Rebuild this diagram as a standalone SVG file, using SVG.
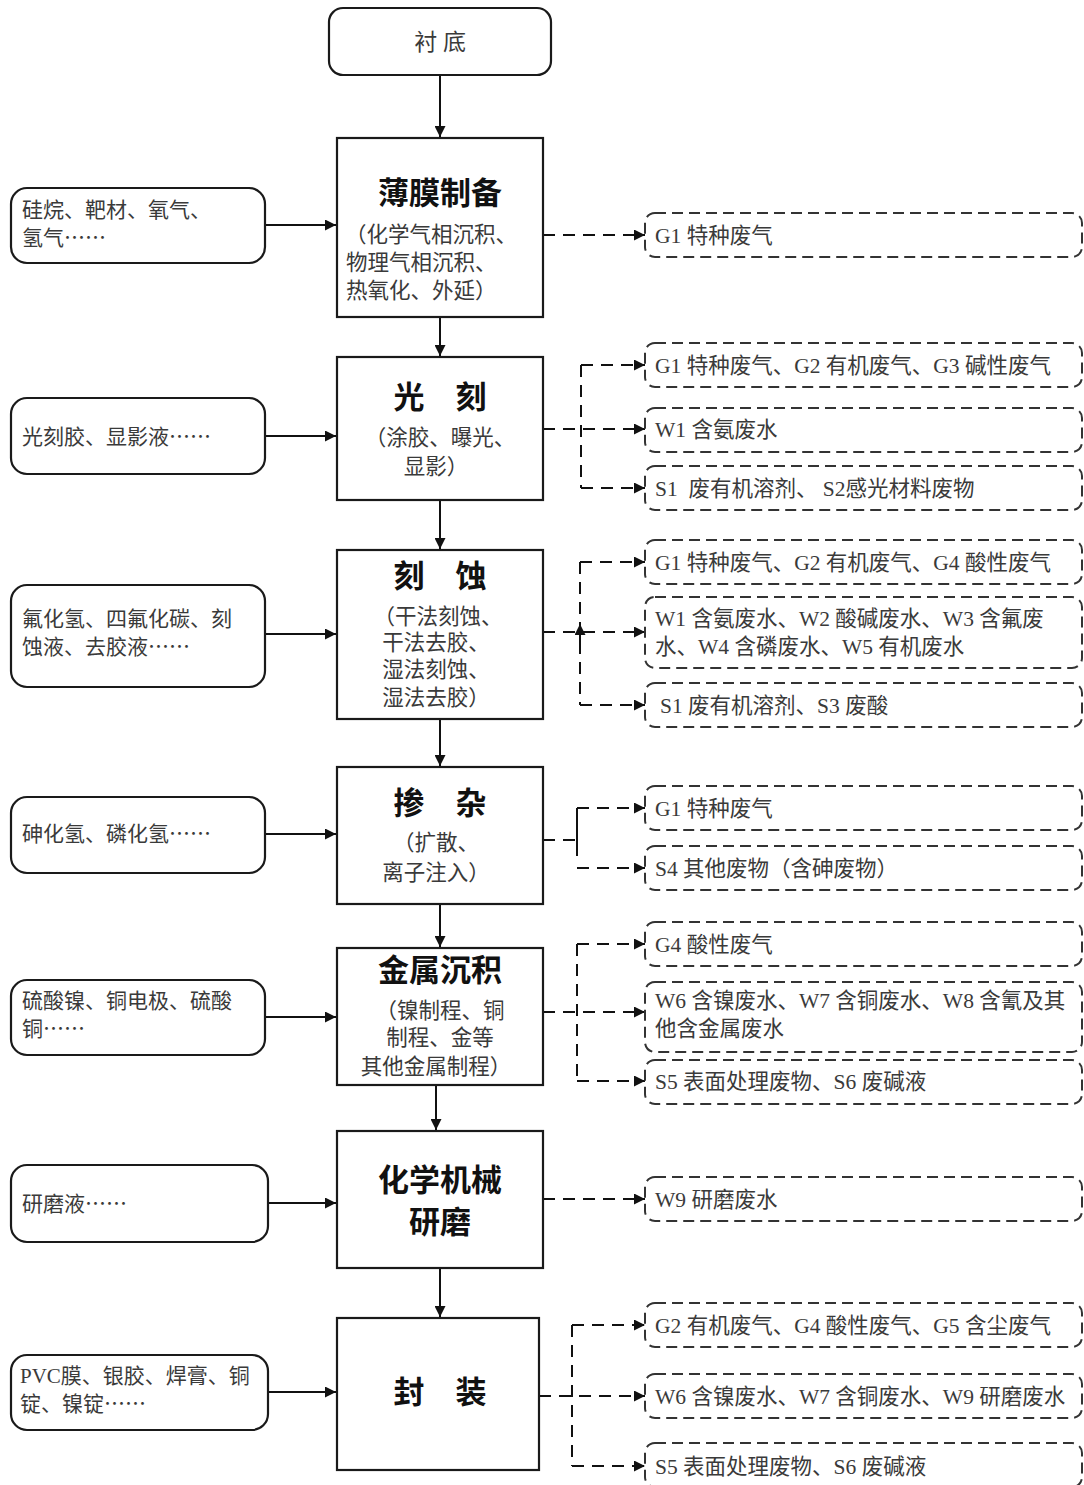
<svg xmlns="http://www.w3.org/2000/svg" width="1084" height="1485" viewBox="0 0 1084 1485">
<defs>
<style>
.proc{fill:#fff;stroke:#1a1a1a;stroke-width:2.2}
.inp{fill:#fff;stroke:#1a1a1a;stroke-width:2.2}
.out{fill:#fff;stroke:#333;stroke-width:2;stroke-dasharray:11 6}
.t{font-family:"Liberation Serif","Noto Sans CJK SC",serif;font-size:21.5px;fill:#3a3a3a}
.l{font-size:21px}
.c{text-anchor:middle}
.e{font-family:"Noto Sans CJK SC",sans-serif}
.ti{font-family:"Liberation Serif","Noto Sans CJK SC",serif;font-size:31px;font-weight:bold;fill:#111;text-anchor:middle}
.solid{stroke:#111;stroke-width:2;fill:none}
.dash{stroke:#111;stroke-width:2;fill:none;stroke-dasharray:12 8}
</style>
<marker id="ah" viewBox="0 0 10 10" refX="10" refY="5" markerWidth="12" markerHeight="11" markerUnits="userSpaceOnUse" orient="auto"><path d="M0,0 L10,5 L0,10 z" fill="#111"/></marker>
</defs>
<rect width="1084" height="1485" fill="#fff"/>

<g id="connectors">
<line class="solid" x1="440" y1="75" x2="440" y2="137" marker-end="url(#ah)"/>
<line class="solid" x1="440" y1="317" x2="440" y2="356" marker-end="url(#ah)"/>
<line class="solid" x1="440" y1="500" x2="440" y2="549" marker-end="url(#ah)"/>
<line class="solid" x1="440" y1="719" x2="440" y2="766" marker-end="url(#ah)"/>
<line class="solid" x1="440" y1="904" x2="440" y2="947" marker-end="url(#ah)"/>
<line class="solid" x1="436" y1="1085" x2="436" y2="1130" marker-end="url(#ah)"/>
<line class="solid" x1="440" y1="1268" x2="440" y2="1317" marker-end="url(#ah)"/>
<line class="solid" x1="265" y1="225" x2="336" y2="225" marker-end="url(#ah)"/>
<line class="solid" x1="265" y1="436" x2="336" y2="436" marker-end="url(#ah)"/>
<line class="solid" x1="265" y1="634" x2="336" y2="634" marker-end="url(#ah)"/>
<line class="solid" x1="265" y1="834" x2="336" y2="834" marker-end="url(#ah)"/>
<line class="solid" x1="265" y1="1017" x2="336" y2="1017" marker-end="url(#ah)"/>
<line class="solid" x1="268" y1="1203" x2="336" y2="1203" marker-end="url(#ah)"/>
<line class="solid" x1="268" y1="1392" x2="336" y2="1392" marker-end="url(#ah)"/>
<line class="dash" x1="543" y1="235" x2="645" y2="235" marker-end="url(#ah)"/>
<line class="dash" x1="543" y1="429" x2="645" y2="429" marker-end="url(#ah)"/>
<path class="dash" d="M581,365 L581,488"/>
<line class="dash" x1="581" y1="365" x2="645" y2="365" marker-end="url(#ah)"/>
<line class="dash" x1="581" y1="488" x2="645" y2="488" marker-end="url(#ah)"/>
<line class="dash" x1="543" y1="632" x2="645" y2="632" marker-end="url(#ah)"/>
<path class="dash" d="M580,562 L580,705"/>
<line class="dash" x1="580" y1="562" x2="645" y2="562" marker-end="url(#ah)"/>
<line class="dash" x1="580" y1="705" x2="645" y2="705" marker-end="url(#ah)"/>
<line class="solid" x1="580" y1="648" x2="580" y2="624" marker-end="url(#ah)"/>
<line class="dash" x1="543" y1="840" x2="577" y2="840"/>
<line class="solid" x1="577" y1="808" x2="577" y2="856"/>
<line class="dash" x1="577" y1="808" x2="645" y2="808" marker-end="url(#ah)"/>
<line class="dash" x1="577" y1="868" x2="645" y2="868" marker-end="url(#ah)"/>
<line class="dash" x1="543" y1="1012" x2="645" y2="1012" marker-end="url(#ah)"/>
<path class="dash" d="M577,944 L577,1081"/>
<line class="dash" x1="577" y1="944" x2="645" y2="944" marker-end="url(#ah)"/>
<line class="dash" x1="577" y1="1081" x2="645" y2="1081" marker-end="url(#ah)"/>
<line class="dash" x1="543" y1="1199" x2="645" y2="1199" marker-end="url(#ah)"/>
<line class="dash" x1="539" y1="1396" x2="645" y2="1396" marker-end="url(#ah)"/>
<path class="dash" d="M572,1325 L572,1466"/>
<line class="dash" x1="572" y1="1325" x2="645" y2="1325" marker-end="url(#ah)"/>
<line class="dash" x1="572" y1="1466" x2="645" y2="1466" marker-end="url(#ah)"/>
</g>

<g id="n-substrate">
<rect x="329" y="8" width="222" height="67" rx="14" class="inp"/>
<text class="t c" x="440" y="50" style="font-size:23px">衬 底</text>
</g>

<g id="n-thinfilm">
<rect x="337" y="138" width="206" height="179" class="proc"/>
<text class="ti" x="440" y="204">薄膜制备</text>
<text class="t" x="345" y="242">（化学气相沉积、</text>
<text class="t" x="346" y="270">物理气相沉积、</text>
<text class="t" x="346" y="298">热氧化、外延）</text>
</g>
<g id="n-litho">
<rect x="337" y="357" width="206" height="143" class="proc"/>
<text class="ti" x="440" y="408">光　刻</text>
<text class="t c" x="440" y="445">（涂胶、曝光、</text>
<text class="t c" x="436" y="474">显影）</text>
</g>
<g id="n-etch">
<rect x="337" y="550" width="206" height="169" class="proc"/>
<text class="ti" x="440" y="587">刻　蚀</text>
<text class="t c" x="438" y="624">（干法刻蚀、</text>
<text class="t c" x="436" y="650">干法去胶、</text>
<text class="t c" x="436" y="677">湿法刻蚀、</text>
<text class="t c" x="436" y="705">湿法去胶）</text>
</g>
<g id="n-doping">
<rect x="337" y="767" width="206" height="137" class="proc"/>
<text class="ti" x="440" y="814">掺　杂</text>
<text class="t c" x="436" y="850">（扩散、</text>
<text class="t c" x="436" y="880">离子注入）</text>
</g>
<g id="n-metal">
<rect x="337" y="948" width="206" height="137" class="proc"/>
<text class="ti" x="440" y="981">金属沉积</text>
<text class="t c" x="440" y="1018">（镍制程、铜</text>
<text class="t c" x="440" y="1045">制程、金等</text>
<text class="t c" x="436" y="1074">其他金属制程）</text>
</g>
<g id="n-cmp">
<rect x="337" y="1131" width="206" height="137" class="proc"/>
<text class="ti" x="440" y="1191">化学机械</text>
<text class="ti" x="440" y="1233">研磨</text>
</g>
<g id="n-package">
<rect x="337" y="1318" width="202" height="152" class="proc"/>
<text class="ti" x="440" y="1403">封　装</text>
</g>

<g id="i-1"><rect x="11" y="188" width="254" height="75" rx="16" class="inp"/>
<text class="t l" x="22" y="217">硅烷、靶材、氧气、</text><text class="t l" x="22" y="245">氢气<tspan class="e">……</tspan></text></g>
<g id="i-2"><rect x="11" y="398" width="254" height="76" rx="16" class="inp"/>
<text class="t l" x="22" y="444">光刻胶、显影液<tspan class="e">……</tspan></text></g>
<g id="i-3"><rect x="11" y="585" width="254" height="102" rx="16" class="inp"/>
<text class="t l" x="22" y="626">氟化氢、四氟化碳、刻</text><text class="t l" x="22" y="654">蚀液、去胶液<tspan class="e">……</tspan></text></g>
<g id="i-4"><rect x="11" y="797" width="254" height="76" rx="16" class="inp"/>
<text class="t l" x="22" y="841">砷化氢、磷化氢<tspan class="e">……</tspan></text></g>
<g id="i-5"><rect x="11" y="980" width="254" height="75" rx="16" class="inp"/>
<text class="t l" x="22" y="1008">硫酸镍、铜电极、硫酸</text><text class="t l" x="22" y="1036">铜<tspan class="e">……</tspan></text></g>
<g id="i-6"><rect x="11" y="1165" width="257" height="77" rx="16" class="inp"/>
<text class="t l" x="22" y="1211">研磨液<tspan class="e">……</tspan></text></g>
<g id="i-7"><rect x="11" y="1355" width="257" height="75" rx="16" class="inp"/>
<text class="t l" x="20" y="1383">PVC膜、银胶、焊膏、铜</text><text class="t l" x="20" y="1411">锭、镍锭<tspan class="e">……</tspan></text></g>

<g id="o-1"><rect x="645" y="213" width="437" height="44" rx="10" class="out"/>
<text class="t" x="655" y="243">G1 特种废气</text></g>
<g id="o-2"><rect x="645" y="343" width="437" height="44" rx="10" class="out"/>
<text class="t" x="655" y="373">G1 特种废气、G2 有机废气、G3 碱性废气</text></g>
<g id="o-3"><rect x="645" y="408" width="437" height="44" rx="10" class="out"/>
<text class="t" x="655" y="437">W1 含氨废水</text></g>
<g id="o-4"><rect x="645" y="466" width="437" height="44" rx="10" class="out"/>
<text class="t" x="655" y="496" xml:space="preserve">S1  废有机溶剂、 S2感光材料废物</text></g>
<g id="o-5"><rect x="645" y="540" width="437" height="44" rx="10" class="out"/>
<text class="t" x="655" y="570">G1 特种废气、G2 有机废气、G4 酸性废气</text></g>
<g id="o-6"><rect x="645" y="597" width="437" height="71" rx="10" class="out"/>
<text class="t" x="655" y="626">W1 含氨废水、W2 酸碱废水、W3 含氟废</text>
<text class="t" x="655" y="654">水、W4 含磷废水、W5 有机废水</text></g>
<g id="o-7"><rect x="645" y="683" width="437" height="44" rx="10" class="out"/>
<text class="t" x="660" y="713">S1 废有机溶剂、S3 废酸</text></g>
<g id="o-8"><rect x="645" y="786" width="437" height="44" rx="10" class="out"/>
<text class="t" x="655" y="816">G1 特种废气</text></g>
<g id="o-9"><rect x="645" y="846" width="437" height="44" rx="10" class="out"/>
<text class="t" x="655" y="876">S4 其他废物（含砷废物）</text></g>
<g id="o-10"><rect x="645" y="922" width="437" height="44" rx="10" class="out"/>
<text class="t" x="655" y="952">G4 酸性废气</text></g>
<g id="o-11"><rect x="645" y="982" width="437" height="70" rx="10" class="out"/>
<text class="t" x="655" y="1008">W6 含镍废水、W7 含铜废水、W8 含氰及其</text>
<text class="t" x="655" y="1036">他含金属废水</text></g>
<g id="o-12"><rect x="645" y="1060" width="437" height="44" rx="10" class="out"/>
<text class="t" x="655" y="1089">S5 表面处理废物、S6 废碱液</text></g>
<g id="o-13"><rect x="645" y="1177" width="437" height="44" rx="10" class="out"/>
<text class="t" x="655" y="1207">W9 研磨废水</text></g>
<g id="o-14"><rect x="645" y="1303" width="437" height="44" rx="10" class="out"/>
<text class="t" x="655" y="1333">G2 有机废气、G4 酸性废气、G5 含尘废气</text></g>
<g id="o-15"><rect x="645" y="1374" width="437" height="44" rx="10" class="out"/>
<text class="t" x="655" y="1404">W6 含镍废水、W7 含铜废水、W9 研磨废水</text></g>
<g id="o-16"><rect x="645" y="1443" width="437" height="44" rx="10" class="out"/>
<text class="t" x="655" y="1474">S5 表面处理废物、S6 废碱液</text></g>
</svg>
